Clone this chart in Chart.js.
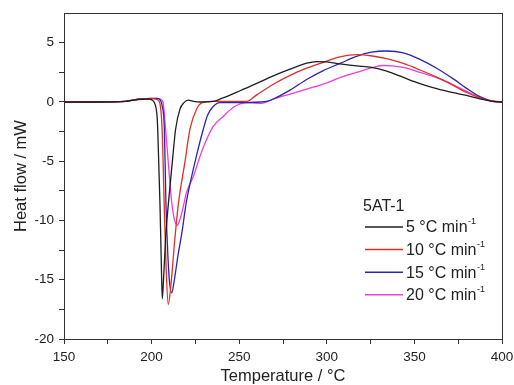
<!DOCTYPE html>
<html>
<head>
<meta charset="utf-8">
<title>Heat flow vs temperature</title>
<script src="https://cdn.jsdelivr.net/npm/chart.js@4.4.1/dist/chart.umd.min.js"></script>
<style>
  html, body { margin: 0; padding: 0; background: #fff; }
  #wrap { width: 514px; height: 385px; }
</style>
</head>
<body>
<div id="wrap"><canvas id="dsc-chart" width="514" height="385"></canvas></div>
<script>
// temperature (°C) and heat flow (mW) per heating rate
const t5 = [150, 170, 185, 192, 198, 200.5, 202, 203, 203.5, 204.8, 205.6, 206.1, 206.8, 208, 209.5, 211.8, 213.7, 216.2, 218.5, 221, 224, 228, 235, 240, 250.5, 260, 269.5, 279, 288.5, 294.2, 300, 307.5, 317, 325.5, 334.2, 343.7, 353.2, 362.7, 372.2, 379.8, 387.4, 395, 400];
const hf5 = [0, 0, 0.05, 0.2, 0.25, 0.15, -0.2, -1, -2.3, -8.7, -14, -16.6, -15, -11.5, -8.7, -5.1, -2.3, -0.6, -0.05, 0.15, 0.05, 0, 0.05, 0.3, 0.95, 1.57, 2.21, 2.77, 3.27, 3.41, 3.38, 3.22, 3.05, 2.92, 2.6, 2.07, 1.55, 1.12, 0.78, 0.55, 0.27, 0.05, 0];

const t10 = [150, 170, 185, 193, 200, 203, 204.5, 206, 207.2, 208.3, 209.5, 211, 213, 215.2, 219, 221.9, 225.7, 229, 235, 245, 254.3, 260, 269.5, 279, 288.5, 298, 307.5, 317, 326, 334.2, 343.7, 353.2, 362.7, 372.2, 379.8, 387.4, 395, 400];
const hf10 = [0, 0, 0.05, 0.25, 0.3, 0.2, 0, -2.3, -8.7, -14, -17.1, -15.5, -12, -8.7, -5.1, -2.3, -0.6, -0.05, 0.05, 0.05, 0.05, 0.6, 1.5, 2.25, 2.85, 3.35, 3.8, 4.0, 3.88, 3.65, 3.25, 2.7, 2.1, 1.4, 0.8, 0.35, 0.07, 0];

const t15 = [150, 170, 185, 193, 203, 205, 206, 207.3, 208.2, 209.3, 210.3, 211.5, 213, 215, 217.2, 220, 223, 226.5, 229.5, 232, 235, 239, 250, 261.9, 265.7, 269.5, 279, 288.5, 298, 307.5, 317, 325.5, 334.2, 343.7, 353.2, 362.7, 372.2, 379.8, 387.4, 395, 400];
const hf15 = [0, 0, 0.05, 0.25, 0.3, 0.15, -0.3, -2.3, -8.7, -13, -15.3, -16.1, -15, -13, -11.1, -8.3, -6.2, -4, -2.3, -1.1, -0.4, -0.05, -0.05, 0, 0.05, 0.25, 1.0, 1.9, 2.65, 3.25, 3.85, 4.2, 4.3, 4.15, 3.6, 2.85, 1.95, 1.15, 0.45, 0.04, 0];

const t20 = [150, 170, 185, 193, 203, 205.5, 206.5, 208, 210, 211.5, 213, 214.7, 216, 217.5, 220, 223.8, 227.6, 231, 235, 241, 246.7, 250.5, 256, 262, 269.5, 279, 288.5, 298, 307.5, 317, 326.5, 332, 337, 343.7, 353.2, 362.7, 372.2, 379.8, 387.4, 395, 400];
const hf20 = [0, 0, 0.05, 0.25, 0.3, 0.2, 0, -2.3, -6, -8.5, -9.9, -10.4, -10, -9.2, -7.6, -6.3, -4.6, -3.3, -2.1, -1.2, -0.45, -0.15, -0.05, -0.12, 0.25, 0.67, 1.09, 1.51, 2.05, 2.49, 2.92, 3.08, 3.05, 2.92, 2.5, 2.05, 1.45, 0.9, 0.4, 0.07, 0];

const seriesLabels = ['5 °C min⁻¹', '10 °C min⁻¹', '15 °C min⁻¹', '20 °C min⁻¹'];
const seriesColors = ['#1e1e1e', 'rgb(220,48,42)', 'rgb(38,38,178)', 'rgb(240,62,222)'];
const legendTitle = '5AT-1';

const xTicks = [150, 200, 250, 300, 350, 400];
const yTicks = [-20, -15, -10, -5, 0, 5];

const FONT = '"Liberation Sans", Arial, sans-serif';
const INK = '#222';

function pairs(xs, ys) {
    return xs.map((x, i) => ({ x: x, y: ys[i] }));
}

const allT = [t5, t10, t15, t20];
const allHF = [hf5, hf10, hf15, hf20];

const data = {
    datasets: seriesLabels.map((lab, i) => ({
        label: lab,
        data: pairs(allT[i], allHF[i]),
        borderColor: seriesColors[i],
        borderWidth: 1.3,
        pointRadius: 0,
        fill: false,
        cubicInterpolationMode: 'monotone'
    }))
};

// majors from the arrays plus a minor tick half-way between each pair
function withMinors(list) {
    const out = [];
    list.forEach((v, i) => {
        out.push({ value: v });
        if (i < list.length - 1) out.push({ value: (v + list[i + 1]) / 2 });
    });
    return out;
}

// box round the plot area and the legend block drawn inside it
const framePlugin = {
    id: 'frame',
    afterDraw(chart) {
        const ctx = chart.ctx;
        const a = chart.chartArea;
        ctx.save();
        ctx.strokeStyle = '#333';
        ctx.lineWidth = 1;
        ctx.strokeRect(Math.round(a.left) + 0.5, Math.round(a.top) + 0.5,
            Math.round(a.right - a.left), Math.round(a.bottom - a.top));

        // legend
        ctx.fillStyle = INK;
        ctx.textBaseline = 'middle';
        ctx.font = '16px ' + FONT;
        ctx.fillText(legendTitle, 363, 207);
        chart.data.datasets.forEach((ds, i) => {
            const y = 227 + i * 22.6;
            ctx.strokeStyle = ds.borderColor;
            ctx.lineWidth = 1.5;
            ctx.beginPath();
            ctx.moveTo(365, y);
            ctx.lineTo(403, y);
            ctx.stroke();
            const main = ds.label.replace('⁻¹', '');
            ctx.font = '16px ' + FONT;
            ctx.fillText(main, 406, y + 1);
            const w = ctx.measureText(main).width;
            ctx.font = '9px ' + FONT;
            ctx.fillText('-1', w + 406.5, y - 5);
        });
        ctx.restore();
    }
};

const config = {
    type: 'line',
    data: data,
    options: {
        responsive: false,
        animation: false,
        devicePixelRatio: 1,
        layout: { padding: { top: 12, right: 0, left: 0, bottom: 0 } },
        plugins: {
            legend: { display: false },
            tooltip: { enabled: false }
        },
        scales: {
            x: {
                type: 'linear',
                min: 150,
                max: 400,
                afterBuildTicks: (scale) => { scale.ticks = withMinors(xTicks); },
                afterFit: (scale) => {
                    scale.height = 46;
                    scale.paddingLeft = 0;
                    scale.paddingRight = 12;
                },
                grid: { drawOnChartArea: false, tickLength: 5, tickColor: '#333' },
                border: { color: '#333' },
                ticks: {
                    color: INK,
                    padding: 5,
                    maxRotation: 0,
                    font: { family: FONT, size: 13.5 },
                    callback: (v) => xTicks.includes(v) ? v : ''
                },
                title: {
                    display: true,
                    text: 'Temperature / °C',
                    color: INK,
                    font: { family: FONT, size: 16.5 },
                    padding: { top: 0, bottom: -1 }
                }
            },
            y: {
                type: 'linear',
                min: -20,
                max: 7.5,
                afterBuildTicks: (scale) => { scale.ticks = withMinors(yTicks); },
                afterFit: (scale) => { scale.width = 64; },
                grid: { drawOnChartArea: false, tickLength: 5, tickColor: '#333' },
                border: { color: '#333' },
                ticks: {
                    color: INK,
                    padding: 5,
                    font: { family: FONT, size: 13.5 },
                    callback: (v) => yTicks.includes(v) ? v : ''
                },
                title: {
                    display: true,
                    text: 'Heat flow / mW',
                    color: INK,
                    font: { family: FONT, size: 16.5 },
                    padding: { top: 12, bottom: 0 }
                }
            }
        }
    },
    plugins: [framePlugin]
};

let obj = document.getElementById('dsc-chart');
let dscChart = new Chart(obj, config);
</script>
</body>
</html>
